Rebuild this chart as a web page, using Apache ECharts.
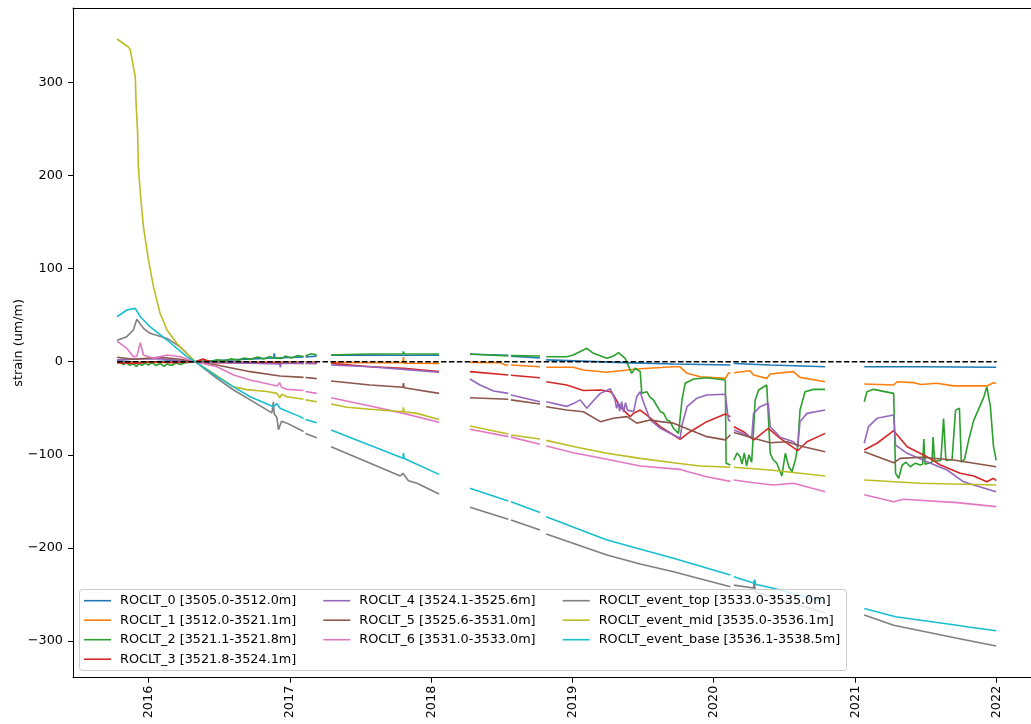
<!DOCTYPE html>
<html>
<head>
<meta charset="utf-8">
<title>ROCLT strain</title>
<script src="https://cdn.jsdelivr.net/npm/echarts@6/dist/echarts.min.js"></script>
<style>
  html, body { margin: 0; padding: 0; background: #ffffff; }
  #chart { width: 1031px; height: 724px; }
</style>
</head>
<body>
<div id="chart"></div>
<script>
// Strain per gauge interval, um/m. A null entry marks a gap in the record.
const seriesNames = [
  'ROCLT_0 [3505.0-3512.0m]',
  'ROCLT_1 [3512.0-3521.1m]',
  'ROCLT_2 [3521.1-3521.8m]',
  'ROCLT_3 [3521.8-3524.1m]',
  'ROCLT_4 [3524.1-3525.6m]',
  'ROCLT_5 [3525.6-3531.0m]',
  'ROCLT_6 [3531.0-3533.0m]',
  'ROCLT_event_top [3533.0-3535.0m]',
  'ROCLT_event_mid [3535.0-3536.1m]',
  'ROCLT_event_base [3536.1-3538.5m]'
];

const seriesColors = ['#1f77b4', '#ff7f0e', '#2ca02c', '#d62728', '#9467bd',
                      '#8c564b', '#e377c2', '#7f7f7f', '#bcbd22', '#17becf'];

const roclt0 = [
  ['2015-10-12', 1], ['2015-12-15', -1], ['2016-03-01', 1], ['2016-05-01', 0], ['2016-08-01', 2],
  ['2016-11-20', 4], ['2016-11-21', 9], ['2016-11-23', 4], ['2017-02-05', 5], null,
  ['2017-02-10', 5], ['2017-03-11', 6], null,
  ['2017-04-17', 7], ['2017-10-20', 7], ['2018-01-21', 7], null,
  ['2018-04-11', 8], ['2018-07-19', 7], null,
  ['2018-07-26', 6], ['2018-10-09', 4], null,
  ['2018-10-25', 2], ['2019-05-13', -1], ['2019-09-19', -2.5], ['2020-02-13', -3.5], null,
  ['2020-02-22', -2], ['2020-05-26', -3.5], ['2020-10-15', -5.4], null,
  ['2021-01-24', -5.5], ['2021-06-18', -5.5], ['2021-12-31', -6]
];

const roclt1 = [
  ['2015-10-12', -1], ['2016-01-01', -1], ['2016-05-01', 0], ['2016-09-01', -0.5], ['2017-02-05', 0], null,
  ['2017-02-10', 0], ['2017-03-11', -0.5], null,
  ['2017-04-17', -0.7], ['2017-07-27', -1], ['2017-10-20', -1], ['2017-10-21', 5], ['2017-10-23', -1.5],
  ['2018-01-21', -1.8], null,
  ['2018-04-11', -0.7], ['2018-06-28', -1], ['2018-07-11', -3.5], ['2018-07-19', -3.5], null,
  ['2018-07-26', -3.5], ['2018-10-09', -5.4], null,
  ['2018-10-25', -6], ['2019-01-03', -6], ['2019-01-29', -8.9], ['2019-03-31', -11.4], ['2019-05-22', -8.9],
  ['2019-06-25', -7.5], ['2019-09-19', -5.4], ['2019-10-06', -5.5], ['2019-10-24', -12.5],
  ['2019-11-27', -16.1], ['2020-01-31', -17.9], ['2020-02-08', -12.5], ['2020-02-13', -12], null,
  ['2020-02-22', -11.8], ['2020-04-04', -9.7], ['2020-04-13', -14.3], ['2020-05-17', -17.9],
  ['2020-05-26', -13.2], ['2020-07-25', -10.7], ['2020-08-11', -16.8], ['2020-10-15', -21.5], null,
  ['2021-01-24', -24], ['2021-04-10', -25], ['2021-04-19', -21.5], ['2021-06-01', -22.5], ['2021-06-20', -24.5],
  ['2021-07-31', -23.2], ['2021-09-12', -26], ['2021-12-07', -26], ['2021-12-24', -22.6], ['2021-12-31', -23.5]
];

const roclt2 = [
  ['2015-10-12', 0], ['2015-10-20', -1], ['2015-10-28', -3], ['2015-11-06', -1.5], ['2015-11-14', -4],
  ['2015-11-22', -2], ['2015-12-01', -5], ['2015-12-08', -2], ['2015-12-15', -4], ['2015-12-24', -1.5],
  ['2016-01-01', -3.5], ['2016-01-10', -1], ['2016-01-20', -4], ['2016-02-01', -2], ['2016-02-10', -5],
  ['2016-02-18', -2.5], ['2016-03-01', -4], ['2016-03-12', -1.5], ['2016-03-23', -3], ['2016-04-05', -1],
  ['2016-05-01', 0], ['2016-05-20', 2], ['2016-06-10', 0.5], ['2016-06-26', 2], ['2016-07-15', 1],
  ['2016-08-01', 3], ['2016-08-20', 1.5], ['2016-09-05', 4], ['2016-09-20', 2.5], ['2016-10-10', 5],
  ['2016-10-25', 3], ['2016-11-10', 5.5], ['2016-11-19', 4], ['2016-12-10', 3.5], ['2016-12-20', 6],
  ['2017-01-05', 4], ['2017-01-20', 6.5], ['2017-02-05', 5.5], null,
  ['2017-02-10', 6.5], ['2017-02-25', 8.5], ['2017-03-11', 7.5], null,
  ['2017-04-17', 7.2], ['2017-06-01', 7.8], ['2017-07-27', 8.3], ['2017-10-20', 8.5], ['2017-10-21', 11],
  ['2017-10-23', 8.5], ['2018-01-21', 8.3], null,
  ['2018-04-11', 8.3], ['2018-07-19', 6.1], null,
  ['2018-07-26', 6.5], ['2018-10-09', 6.1], null,
  ['2018-10-25', 5.4], ['2018-12-17', 5.4], ['2019-01-03', 7.2], ['2019-02-07', 14.4], ['2019-02-24', 9],
  ['2019-03-31', 3.6], ['2019-04-17', 6.1], ['2019-04-30', 9.7], ['2019-05-17', 3.6], ['2019-06-03', -12.5],
  ['2019-06-12', -7], ['2019-06-25', -10.7], ['2019-06-29', -34], ['2019-07-03', -35.8], ['2019-07-12', -32.2],
  ['2019-07-20', -38], ['2019-07-29', -41.1], ['2019-08-05', -46], ['2019-08-16', -53.7], ['2019-08-24', -55],
  ['2019-09-02', -62.6], ['2019-09-10', -64], ['2019-09-19', -71.5],
  ['2019-10-02', -77], ['2019-10-06', -75], ['2019-10-11', -41.1], ['2019-10-19', -23.2],
  ['2019-11-10', -18.6], ['2019-12-14', -17.2], ['2020-01-31', -19.7], ['2020-02-02', -109],
  ['2020-02-13', -111], null,
  ['2020-02-22', -105.6], ['2020-03-01', -98], ['2020-03-09', -102], ['2020-03-14', -110], ['2020-03-20', -98],
  ['2020-03-26', -112], ['2020-04-01', -100], ['2020-04-08', -108], ['2020-04-13', -73.4],
  ['2020-04-17', -41.1], ['2020-04-26', -30.4], ['2020-05-17', -25], ['2020-05-21', -23],
  ['2020-05-26', -98.4], ['2020-06-03', -105.6], ['2020-06-12', -109], ['2020-06-25', -122.8],
  ['2020-07-04', -98.4], ['2020-07-13', -112.8], ['2020-07-21', -118.1], ['2020-07-30', -105.6],
  ['2020-08-05', -91.3], ['2020-08-11', -51.9], ['2020-08-24', -32.2], ['2020-09-15', -29.7],
  ['2020-10-15', -29.7], null,
  ['2021-01-24', -43], ['2021-01-31', -32.2], ['2021-02-17', -29.7], ['2021-04-10', -34],
  ['2021-04-15', -120], ['2021-04-23', -125.2], ['2021-05-02', -111], ['2021-05-12', -108],
  ['2021-05-23', -112.8], ['2021-06-05', -109],
  ['2021-06-18', -111], ['2021-06-24', -110], ['2021-06-27', -83], ['2021-06-30', -110],
  ['2021-07-18', -108], ['2021-07-21', -81], ['2021-07-25', -107], ['2021-08-10', -106],
  ['2021-08-17', -61], ['2021-08-23', -106], ['2021-09-08', -105], ['2021-09-17', -52],
  ['2021-09-27', -50], ['2021-10-02', -108], ['2021-10-10', -105], ['2021-10-21', -84],
  ['2021-11-03', -63], ['2021-11-29', -38], ['2021-12-07', -27], ['2021-12-16', -48],
  ['2021-12-24', -91], ['2021-12-31', -106]
];

const roclt3 = [
  ['2015-10-12', -1], ['2015-12-01', -2], ['2016-01-01', 0], ['2016-03-01', -1], ['2016-05-01', 0],
  ['2016-05-21', 3], ['2016-06-15', -1], ['2016-10-01', -1], ['2017-02-05', -2], null,
  ['2017-02-10', -2], ['2017-03-11', -2], null,
  ['2017-04-17', -1.8], ['2017-07-27', -5.4], ['2017-10-21', -7], ['2018-01-21', -10.7], null,
  ['2018-04-11', -10.7], ['2018-07-19', -14.3], null,
  ['2018-07-26', -14.5], ['2018-10-09', -17.2], null,
  ['2018-10-25', -21.5], ['2018-12-17', -25], ['2019-01-29', -31], ['2019-03-14', -30.4],
  ['2019-04-09', -32.2], ['2019-04-17', -35.8], ['2019-05-04', -48.3], ['2019-05-30', -59],
  ['2019-06-08', -55.5], ['2019-06-25', -51.9], ['2019-07-12', -57.3], ['2019-08-16', -69.8],
  ['2019-09-19', -78.7], ['2019-10-06', -83.4], ['2019-11-01', -75.2], ['2019-12-14', -64.4],
  ['2020-01-31', -56.2], ['2020-02-13', -59], null,
  ['2020-02-22', -69.8], ['2020-03-18', -75.2], ['2020-04-13', -84.1], ['2020-05-21', -71.5],
  ['2020-06-21', -82.3], ['2020-08-05', -95.6], ['2020-08-29', -86], ['2020-10-15', -77], null,
  ['2021-01-24', -94.8], ['2021-02-26', -87.6], ['2021-04-10', -74.1], ['2021-05-15', -91.3],
  ['2021-07-05', -102], ['2021-08-09', -111], ['2021-09-29', -119.9], ['2021-11-03', -122.8],
  ['2021-12-07', -129], ['2021-12-24', -125.2], ['2021-12-31', -127.8]
];

const roclt4 = [
  ['2015-10-12', 2], ['2015-12-01', 3], ['2016-02-01', 3], ['2016-05-01', 0], ['2016-08-01', -1],
  ['2016-12-05', -2.5], ['2016-12-07', -6], ['2016-12-09', -2], ['2017-02-05', -1.5], null,
  ['2017-02-10', -1.5], ['2017-03-11', -1.8], null,
  ['2017-04-17', -3.5], ['2017-07-27', -5.4], ['2017-10-21', -8.2], ['2018-01-21', -11.4], null,
  ['2018-04-11', -18.6], ['2018-05-07', -25], ['2018-06-11', -31.5], ['2018-07-19', -34], null,
  ['2018-07-26', -35.8], ['2018-10-09', -43], null,
  ['2018-10-25', -43], ['2018-12-17', -48], ['2019-01-03', -45], ['2019-01-21', -41], ['2019-02-07', -50],
  ['2019-02-24', -42], ['2019-03-14', -34], ['2019-04-09', -29], ['2019-04-21', -41], ['2019-04-25', -50],
  ['2019-04-29', -44], ['2019-05-03', -53], ['2019-05-08', -43], ['2019-05-13', -54], ['2019-05-18', -44],
  ['2019-05-23', -52], ['2019-06-08', -53.7], ['2019-06-16', -37.6], ['2019-06-25', -32.2],
  ['2019-07-03', -43], ['2019-07-21', -62.6], ['2019-08-16', -71.5], ['2019-09-19', -78.7],
  ['2019-10-06', -82.3], ['2019-10-11', -68], ['2019-10-24', -48.3], ['2019-11-18', -39.3],
  ['2019-12-14', -35.8], ['2020-01-31', -35], ['2020-02-08', -62.6], ['2020-02-13', -64], null,
  ['2020-02-22', -73.4], ['2020-03-26', -78.7], ['2020-04-08', -82.3], ['2020-04-13', -55.5],
  ['2020-04-30', -48.3], ['2020-05-21', -44.7], ['2020-05-26', -69.8], ['2020-06-21', -81.2],
  ['2020-07-25', -86], ['2020-08-05', -91.3], ['2020-08-11', -64.4], ['2020-08-29', -55.5],
  ['2020-10-15', -51.9], null,
  ['2021-01-24', -87.6], ['2021-02-04', -69.8], ['2021-02-26', -60.8], ['2021-04-10', -57.3],
  ['2021-04-15', -89.5], ['2021-05-15', -98.4], ['2021-07-05', -107.4], ['2021-08-26', -116.3],
  ['2021-10-08', -129], ['2021-11-03', -132.4], ['2021-12-31', -139.6]
];

const roclt5 = [
  ['2015-10-12', 4.7], ['2015-11-23', 2.6], ['2016-01-31', 4.7], ['2016-03-23', 2.6], ['2016-05-01', 0],
  ['2016-06-26', -3.5], ['2016-09-20', -10.7], ['2016-12-06', -15.4], ['2017-02-05', -16.8], null,
  ['2017-02-10', -17], ['2017-03-11', -18.2], null,
  ['2017-04-17', -20.7], ['2017-07-27', -25], ['2017-10-20', -27.5], ['2017-10-21', -23], ['2017-10-23', -28],
  ['2018-01-21', -34], null,
  ['2018-04-11', -38.7], ['2018-07-19', -40.4], null,
  ['2018-07-26', -41], ['2018-10-09', -45.4], null,
  ['2018-10-25', -48.3], ['2018-12-17', -51.9], ['2019-01-29', -53.7], ['2019-03-14', -64.4],
  ['2019-04-17', -60.8], ['2019-05-22', -59], ['2019-06-16', -66], ['2019-07-21', -62.6],
  ['2019-08-16', -64.4], ['2019-09-19', -66], ['2019-11-01', -73.4], ['2019-12-14', -80.5],
  ['2020-01-31', -84], ['2020-02-13', -78.7], null,
  ['2020-02-22', -76], ['2020-04-13', -82.3], ['2020-05-26', -87], ['2020-07-08', -86],
  ['2020-08-20', -91.3], ['2020-10-15', -96.7], null,
  ['2021-01-24', -96.7], ['2021-04-10', -108.5], ['2021-04-27', -103.8], ['2021-06-18', -102.7],
  ['2021-09-12', -105.6], ['2021-12-31', -112.8]
];

const roclt6 = [
  ['2015-10-12', 22], ['2015-11-06', 14.4], ['2015-11-23', 5.4], ['2015-12-02', 6], ['2015-12-11', 20.4],
  ['2015-12-19', 7.2], ['2016-01-14', 3.6], ['2016-02-18', 7.2], ['2016-03-23', 5.4], ['2016-05-01', 0],
  ['2016-06-26', -5.4], ['2016-08-08', -14.3], ['2016-09-20', -19.7], ['2016-11-29', -26],
  ['2016-12-05', -22.5], ['2016-12-10', -27.5], ['2016-12-24', -29.7], ['2017-02-05', -31], null,
  ['2017-02-10', -32], ['2017-03-11', -34], null,
  ['2017-04-17', -38.7], ['2017-07-27', -47.6], ['2017-10-21', -55.5], ['2018-01-21', -65], null,
  ['2018-04-11', -72.6], ['2018-07-19', -80.5], null,
  ['2018-07-26', -81], ['2018-10-09', -88.7], null,
  ['2018-10-25', -90.5], ['2019-01-03', -97.7], ['2019-03-31', -104.8], ['2019-06-25', -112],
  ['2019-10-06', -115.6], ['2019-10-24', -118], ['2019-12-14', -123.5], ['2020-02-13', -128.5], null,
  ['2020-02-22', -127], ['2020-04-13', -130], ['2020-06-03', -132.4], ['2020-07-25', -130.6],
  ['2020-10-15', -139.6], null,
  ['2021-01-24', -143], ['2021-04-10', -150.4], ['2021-05-06', -147.8], ['2021-09-21', -151.4],
  ['2021-12-31', -155.7]
];

const rocltEventTop = [
  ['2015-10-12', 23], ['2015-11-06', 26.9], ['2015-11-23', 34], ['2015-12-02', 45.5], ['2015-12-19', 35.8],
  ['2016-01-05', 30.5], ['2016-02-18', 25], ['2016-03-23', 16], ['2016-05-01', 0], ['2016-06-26', -17.9],
  ['2016-08-08', -30.4], ['2016-09-20', -41], ['2016-11-15', -55], ['2016-11-19', -43], ['2016-11-21', -56],
  ['2016-11-28', -60], ['2016-12-02', -73], ['2016-12-06', -72], ['2016-12-10', -64], ['2016-12-24', -66],
  ['2017-02-05', -75], null,
  ['2017-02-10', -77], ['2017-03-11', -81.6], null,
  ['2017-04-17', -91.3], ['2017-07-27', -109], ['2017-10-13', -122.8], ['2017-10-20', -120],
  ['2017-11-03', -127.8], ['2017-11-25', -130.6], ['2018-01-21', -142], null,
  ['2018-04-11', -156.4], ['2018-07-19', -169.3], null,
  ['2018-07-26', -170], ['2018-10-09', -180.8], null,
  ['2018-10-25', -185], ['2019-03-31', -207.6], ['2019-06-25', -217.3], ['2019-09-19', -225.6],
  ['2020-02-13', -241.7], null,
  ['2020-02-22', -240], ['2020-04-13', -243], ['2020-04-15', -234.5], ['2020-04-17', -247],
  ['2020-10-15', -270], null,
  ['2021-01-24', -272], ['2021-04-10', -283], ['2021-09-21', -297], ['2021-12-31', -305.4]
];

const rocltEventMid = [
  ['2015-10-12', 346.6], ['2015-11-10', 338], ['2015-11-15', 335], ['2015-11-28', 306], ['2015-11-30', 278],
  ['2015-12-04', 245.6], ['2015-12-06', 209], ['2015-12-11', 181], ['2015-12-19', 145], ['2016-01-01', 109],
  ['2016-01-14', 80.6], ['2016-01-31', 52], ['2016-02-18', 34], ['2016-03-14', 19.8], ['2016-05-01', 0],
  ['2016-06-17', -12.5], ['2016-08-08', -27], ['2016-09-11', -30], ['2016-11-02', -32], ['2016-11-28', -34],
  ['2016-12-06', -39], ['2016-12-10', -35], ['2016-12-24', -37.6], ['2017-02-05', -40.4], null,
  ['2017-02-10', -41], ['2017-03-11', -43], null,
  ['2017-04-17', -45.4], ['2017-05-28', -49], ['2017-07-27', -51], ['2017-10-20', -53.7],
  ['2017-10-21', -49], ['2017-10-23', -53.7], ['2017-11-25', -55.5], ['2018-01-21', -62], null,
  ['2018-04-11', -69], ['2018-07-19', -77.7], null,
  ['2018-07-26', -78.7], ['2018-10-09', -83], null,
  ['2018-10-25', -84.5], ['2019-01-03', -91], ['2019-03-31', -98.4], ['2019-06-25', -103.8],
  ['2019-09-19', -108.5], ['2019-11-27', -112], ['2020-02-13', -113.4], null,
  ['2020-02-22', -113.4], ['2020-05-26', -116.3], ['2020-10-15', -122.8], null,
  ['2021-01-24', -127], ['2021-06-18', -130.6], ['2021-12-31', -132.4]
];

const rocltEventBase = [
  ['2015-10-12', 48.3], ['2015-11-06', 55.5], ['2015-11-28', 57.3], ['2015-12-02', 58.4], ['2015-12-11', 48.3],
  ['2016-01-05', 37.6], ['2016-02-18', 23.3], ['2016-04-09', 5.4], ['2016-05-01', 0], ['2016-06-26', -16],
  ['2016-08-08', -27], ['2016-09-20', -37.6], ['2016-11-19', -48.3], ['2016-11-28', -45], ['2016-12-06', -50],
  ['2017-01-27', -59], ['2017-02-05', -61], null,
  ['2017-02-10', -62], ['2017-03-11', -65.5], null,
  ['2017-04-17', -73.4], ['2017-10-20', -103.8], ['2017-10-21', -98], ['2017-10-23', -104],
  ['2018-01-21', -121], null,
  ['2018-04-11', -136], ['2018-07-19', -149.6], null,
  ['2018-07-26', -150.5], ['2018-10-09', -162], null,
  ['2018-10-25', -166.5], ['2019-03-31', -191.5], ['2019-09-19', -211], ['2020-02-13', -229], null,
  ['2020-02-22', -231], ['2020-04-15', -238], ['2020-04-16', -234], ['2020-04-18', -239],
  ['2020-06-03', -243.4], ['2020-10-15', -258], null,
  ['2021-01-24', -265], ['2021-04-15', -274], ['2021-09-21', -283], ['2021-10-20', -285],
  ['2021-10-22', -283], ['2021-12-31', -289]
];

const seriesValues = [roclt0, roclt1, roclt2, roclt3, roclt4, roclt5, roclt6,
                      rocltEventTop, rocltEventMid, rocltEventBase];

// zero reference line
const zeroLine = [['2015-10-12', 0], ['2022-01-01', 0]];

const yearTicks = [2016, 2017, 2018, 2019, 2020, 2021, 2022];
const strainTicks = [-300, -200, -100, 0, 100, 200, 300];

const toTime = d => Date.parse(d + 'T00:00:00Z');

// dates become timestamps; null entries become an empty point so the line breaks there
function withGaps(points) {
  return points.map((p, i) => (p === null ? [toTime(points[i - 1][0]), null] : [toTime(p[0]), p[1]]));
}

const FONT = 'DejaVu Sans';
const FS = 12.8;

const series = seriesValues.map((pts, i) => ({
  name: seriesNames[i],
  type: 'line',
  data: withGaps(pts),
  color: seriesColors[i],
  showSymbol: false,
  symbol: 'none',
  connectNulls: false,
  lineStyle: { width: 1.6, color: seriesColors[i] },
  silent: true,
  z: 2
}));

series.push({
  name: 'zero',
  type: 'line',
  data: withGaps(zeroLine),
  showSymbol: false,
  symbol: 'none',
  lineStyle: { width: 1.5, color: '#000000', type: [5.5, 2.4] },
  silent: true,
  z: 2
});

function legendColumn(names, left) {
  return {
    data: names,
    orient: 'vertical',
    left: left,
    top: 593.7,
    padding: 0,
    icon: 'rect',
    itemWidth: 27,
    itemHeight: 1.6,
    itemGap: 5.5,
    selectedMode: false,
    textStyle: { fontFamily: FONT, fontSize: FS, color: '#000', lineHeight: 14, padding: [0, 0, 0, 4] }
  };
}

const yearStamps = yearTicks.map(y => Date.UTC(y, 0, 1));
const xMin = toTime('2015-06-20');
const xMax = toTime('2022-03-31');

const chart = echarts.init(document.getElementById('chart'), null, { renderer: 'canvas' });

chart.setOption({
  animation: false,
  backgroundColor: '#ffffff',
  grid: { left: 73, top: 8, right: 0, bottom: 46.3, show: false },
  xAxis: [{
    type: 'value',
    position: 'bottom',
    min: xMin,
    max: xMax,
    axisLine: { show: true, onZero: false, lineStyle: { color: '#000', width: 1 } },
    axisTick: {
      show: true, length: 5, lineStyle: { color: '#000', width: 1 },
      customValues: yearStamps
    },
    axisLabel: {
      customValues: yearStamps,
      rotate: 90, margin: 8, color: '#000', fontFamily: FONT, fontSize: FS,
      formatter: v => String(new Date(v).getUTCFullYear())
    },
    splitLine: { show: false }
  }, {
    // top frame edge
    type: 'value',
    position: 'top',
    min: xMin,
    max: xMax,
    axisLine: { show: true, onZero: false, lineStyle: { color: '#000', width: 1 } },
    axisTick: { show: false },
    axisLabel: { show: false },
    splitLine: { show: false }
  }],
  yAxis: {
    type: 'value',
    min: -339.4,
    max: 379.9,
    name: 'strain (um/m)',
    nameLocation: 'middle',
    nameGap: 48,
    nameMoveOverlap: false,
    nameRotate: 90,
    nameTextStyle: { fontFamily: FONT, fontSize: FS, color: '#000' },
    axisLine: { show: true, onZero: false, lineStyle: { color: '#000', width: 1 } },
    axisTick: { show: true, length: 5, lineStyle: { color: '#000', width: 1 }, customValues: strainTicks },
    axisLabel: {
      customValues: strainTicks,
      margin: 10, color: '#000', fontFamily: FONT, fontSize: FS,
      formatter: v => (v < 0 ? '\u2212' + Math.abs(v) : String(v))
    },
    splitLine: { show: false }
  },
  legend: [
    legendColumn(seriesNames.slice(0, 4), 84),
    legendColumn(seriesNames.slice(4, 7), 323.3),
    legendColumn(seriesNames.slice(7, 10), 562.7)
  ],
  graphic: [{
    type: 'rect',
    z: 3,
    silent: true,
    shape: { x: 79.5, y: 589.5, width: 767, height: 81, r: 3 },
    style: { fill: 'rgba(255,255,255,0.8)', stroke: '#cccccc', lineWidth: 1 }
  }],
  series: series
});
</script>
</body>
</html>
